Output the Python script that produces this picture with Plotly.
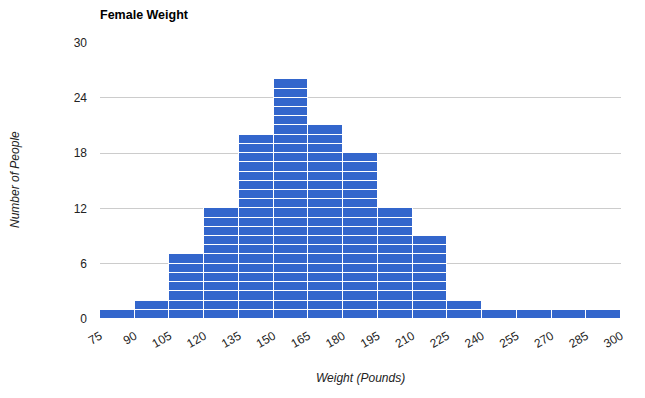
import plotly.graph_objects as go

bin_starts = [75, 90, 105, 120, 135, 150, 165, 180, 195, 210, 225, 240, 255, 270, 285]
counts = [1, 2, 7, 12, 20, 26, 21, 18, 12, 9, 2, 1, 1, 1, 1]
bin_width = 15
x_ticks = list(range(75, 301, 15))
y_ticks = [0, 6, 12, 18, 24, 30]

L, R, T, B = 100, 24, 42, 79
W, H = 645, 398
pw, ph = W - L - R, H - T - B

def px_x(p):
    return (p - L) / pw

def px_y(p):
    return (H - B - p) / ph

centers = [s + bin_width / 2 for s in bin_starts]
fig = go.Figure()
for level in range(1, max(counts) + 1):
    ys = [1 if c >= level else None for c in counts]
    fig.add_trace(go.Bar(
        x=centers, y=ys, width=[bin_width] * len(centers),
        marker=dict(color="#3366cc", line=dict(color="white", width=1.3)),
        showlegend=False, hoverinfo="skip",
    ))

font_family = "Liberation Sans, Arial, sans-serif"
fig.update_layout(
    barmode="stack", bargap=0,
    width=W, height=H,
    margin=dict(l=L, r=R, t=T, b=B, autoexpand=False),
    plot_bgcolor="white", paper_bgcolor="white",
    font=dict(family=font_family, size=12, color="#222"),
    xaxis=dict(range=[75, 300.01], tickvals=x_ticks, ticktext=[str(t) for t in x_ticks],
               tickangle=-30, showgrid=False, zeroline=False, showline=False,
               ticks="", tickfont=dict(size=12, color="#222"), automargin=False,
               ticklabelstandoff=7),
    yaxis=dict(range=[0, 30.05], tickvals=y_ticks, showgrid=True, gridcolor="#cccccc",
               zeroline=False, showline=False, ticks="",
               tickfont=dict(size=12, color="#222"), automargin=False,
               ticklabelstandoff=12),
    annotations=[
        dict(text="<b>Female Weight</b>", xref="paper", yref="paper",
             x=px_x(98), y=px_y(15), xanchor="left", yanchor="middle",
             showarrow=False, font=dict(size=12.5, color="#000")),
        dict(text="<i>Number of People</i>", xref="paper", yref="paper",
             x=px_x(15), y=px_y(180), xanchor="center", yanchor="middle",
             textangle=-90, showarrow=False, font=dict(size=12, color="#222")),
        dict(text="<i>Weight (Pounds)</i>", xref="paper", yref="paper",
             x=px_x(360), y=px_y(378), xanchor="center", yanchor="middle",
             showarrow=False, font=dict(size=12, color="#222")),
    ],
)
fig.write_html("out.html", config={"displayModeBar": False},
               post_script="document.body.style.margin='0';")
